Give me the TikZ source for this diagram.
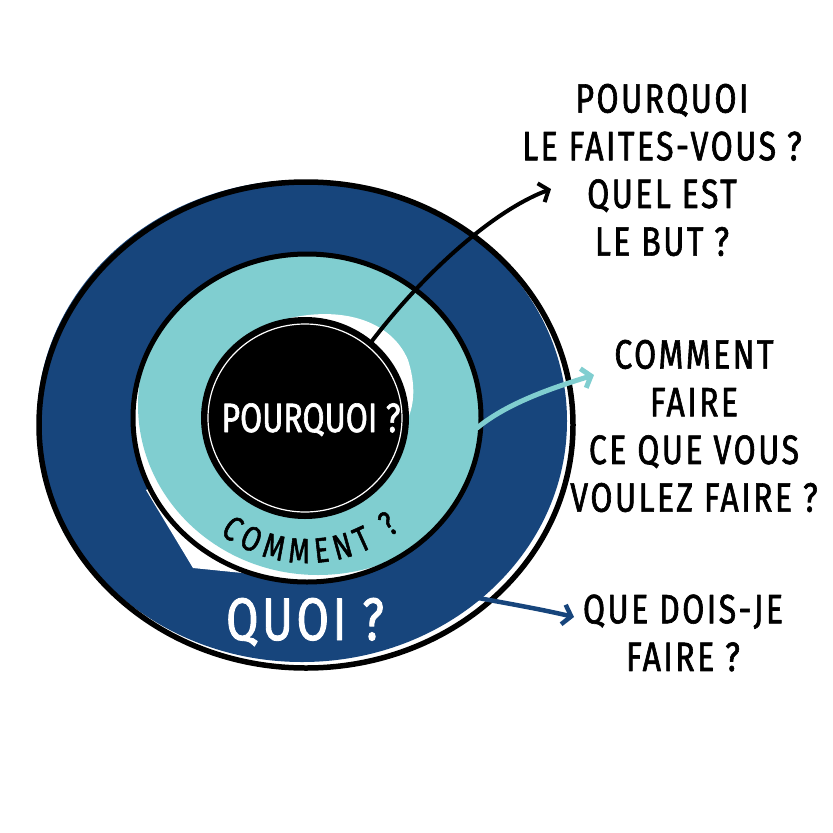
\documentclass[tikz,border=0pt]{standalone}
\usepackage{fontspec}
\setmainfont{Fira Sans}[FakeStretch=0.78,FakeBold=1.5]
\usetikzlibrary{arrows.meta,decorations.text}
\definecolor{ringblue}{RGB}{23,69,124}
\definecolor{ringteal}{RGB}{128,206,208}
\begin{document}
\begin{tikzpicture}[x=1pt,y=-1pt,line join=round,
  handtext/.style={font=\fontsize{41}{47.7}\selectfont\addfontfeatures{LetterSpace=6},align=center,inner sep=0pt},
  innertext/.style={text=white,anchor=base,inner sep=0pt},
  barb/.style={-{Straight Barb[length=8pt,width=20pt]},line cap=round}]
\useasboundingbox (0,0) rectangle (833,833);
% outer ring fill
\fill[ringblue] (302,421) ellipse [x radius=265, y radius=241];
% white areas
\fill[white] (146,490) -- (193,568) -- (322,581) -- (307,418) -- cycle;
\fill[white] (307,418) ellipse [x radius=174, y radius=164];
% teal ring
\begin{scope}
  \clip (307,418) ellipse [x radius=174, y radius=164];
  \fill[ringteal] (318,405) ellipse [x radius=180, y radius=170];
\end{scope}
% white lobe near the core
\fill[white] (290,318) .. controls (345,306) and (392,322) .. (408,360)
  .. controls (416,385) and (414,405) .. (408,418) -- (305,418) -- cycle;
% core
\fill[black] (305,418) ellipse [x radius=104, y radius=101];
\draw[white,line width=1.2pt] (305,418) ellipse [x radius=97, y radius=94];
% outlines
\draw[line width=5pt] (307,418) ellipse [x radius=174, y radius=164];
\draw[line width=5.5pt] (306,425) ellipse [x radius=267, y radius=243];
% labels inside
\node[innertext,font=\fontsize{41}{47}\selectfont] (pourquoi) at (311,432) {POURQUOI ?};
\node[innertext,font=\fontsize{60}{60}\selectfont\addfontfeatures{LetterSpace=6}] (quoi) at (305,640) {QUOI ?};
\path[decorate,decoration={text along path,text align=fit to path,
  text={|\fontsize{35}{35}\selectfont|COMMENT ?}}]
  ([shift={(307,418)}]127:145) arc[start angle=127,end angle=50,radius=145];
% text blocks
\node[handtext] (why) at (662,170) {POURQUOI\\LE FAITES-VOUS ?\\QUEL EST\\LE BUT ?};
\node[handtext] (how) at (694,426) {COMMENT\\FAIRE\\CE QUE VOUS\\VOULEZ FAIRE ?};
\node[handtext] (what) at (683,633) {QUE DOIS-JE\\FAIRE ?};
% arrows
\coordinate (whyStart) at (372,341);
\coordinate (whyEnd) at (551,189);
\coordinate (howStart) at (477,428);
\coordinate (howEnd) at (594,375);
\coordinate (whatStart) at (473,597);
\coordinate (whatEnd) at (574,617);
\draw[barb,line width=4pt] (whyStart) .. controls (420,278) and (490,212) .. (whyEnd);
\draw[barb,ringteal,line width=5pt] (howStart) .. controls (505,405) and (545,390) .. (howEnd);
\draw[barb,ringblue,line width=4.5pt] (whatStart) .. controls (505,603) and (540,609) .. (whatEnd);
\end{tikzpicture}
\end{document}
